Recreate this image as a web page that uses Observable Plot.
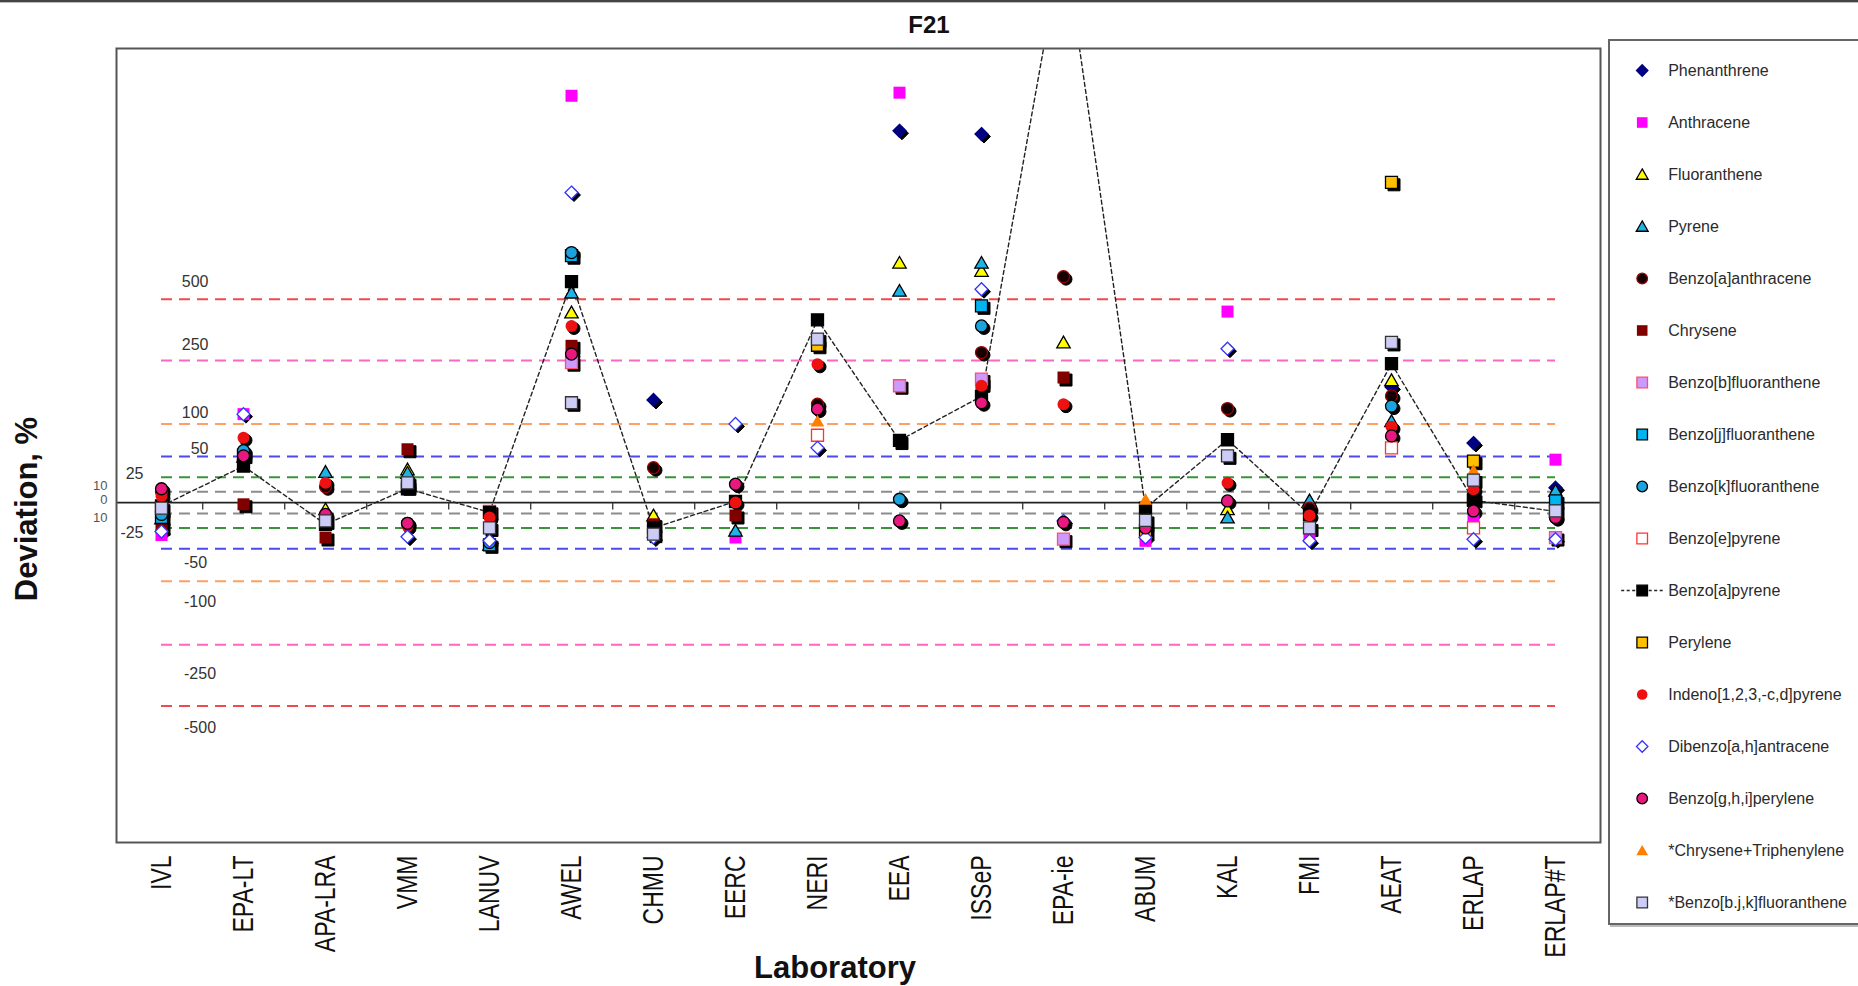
<!DOCTYPE html>
<html><head><meta charset="utf-8">
<script src="https://cdn.jsdelivr.net/npm/d3@7"></script>
<script src="https://cdn.jsdelivr.net/npm/@observablehq/plot@0.6"></script>
<style>
body{margin:0;background:#fff;font-family:"Liberation Sans",Arial,sans-serif;}
#wrap{position:relative;width:1858px;height:986px;overflow:hidden;background:#fff;}
.abs{position:absolute;white-space:nowrap;line-height:1;}
</style></head><body><div id="wrap"></div>
<script>
// ---------- data ----------
const labs = ["IVL","EPA-LT","APA-LRA","VMM","LANUV","AWEL","CHMU","EERC","NERI","EEA","ISSeP","EPA-ie","ABUM","KAL","FMI","AEAT","ERLAP","ERLAP#T"];
const seriesNames = ["Phenanthrene","Anthracene","Fluoranthene","Pyrene","Benzo[a]anthracene","Chrysene","Benzo[b]fluoranthene","Benzo[j]fluoranthene","Benzo[k]fluoranthene","Benzo[e]pyrene","Benzo[a]pyrene","Perylene","Indeno[1,2,3,-c,d]pyrene","Dibenzo[a,h]antracene","Benzo[g,h,i]perylene","*Chrysene+Triphenylene","*Benzo[b.j,k]fluoranthene"];
const phenanthrene = [null,null,null,null,null,null,147,null,null,2545,2470,null,null,null,null,177,69,14];
const anthracene = [-33,118,null,null,null,3500,null,-36,null,3600,null,null,-40,438,-35,null,-14,46];
const fluoranthene = [null,null,-6,34,null,434,-12,null,null,727,670,310,null,-6,1,194,null,null];
const pyrene = [-15,50,31,30,-45,536,null,-28,null,546,727,null,null,-14,2,105,null,11];
const benzoAanthracene = [10,55,15,-20,null,790,36,null,138,null,275,632,null,129,-5,156,null,-14];
const chrysene = [-24,-1.5,-36,60,null,298,-21,-12,null,72,185,201,null,null,null,null,null,null];
const benzoBfluoranthene = [null,null,null,null,-8,243,null,null,null,180,197,-38,null,null,null,null,null,-36];
const benzoJfluoranthene = [-14,52,null,15,-45,780,null,null,null,null,466,null,null,null,null,null,3,1.5];
const benzoKfluoranthene = [-11,58,null,16,-42,805,null,null,null,3,374,null,null,null,null,134,null,null];
const benzoEpyrene = [null,null,null,null,null,null,null,null,81,null,null,null,null,null,null,62,-25,null];
const benzoApyrene = [-3,38,-21,13,-9,600,-25,1,400,73,155,14500,-5,74,-11,240,2,-8];
const perylene = [null,null,null,null,null,null,null,null,300,null,null,null,-28,null,null,1580,44,null];
const indeno = [6,77,19,-23,-14,374,null,0,238,null,180,138,null,19,-12,95,12.5,null];
const dibenzo = [-29,118,null,-35,-40,1435,-36,100,62,null,555,-17.5,-36,288,-40,null,-38,-38];
const benzoGHIperylene = [13,51,-11,-20,null,270,null,17.6,128,-17.5,141,-19,-25,1.5,null,80,-7.6,-14];
const chryseneTriphenylene = [null,null,null,null,null,null,null,null,105,null,null,null,3,null,null,null,33,null];
const benzoBJKfluoranthene = [-5,null,-17.5,19,-25,141,-32,null,322,null,null,null,-17,51,-25,310,22,-7.6];
const seriesValues = [phenanthrene,anthracene,fluoranthene,pyrene,benzoAanthracene,chrysene,benzoBfluoranthene,benzoJfluoranthene,benzoKfluoranthene,benzoEpyrene,benzoApyrene,perylene,indeno,dibenzo,benzoGHIperylene,chryseneTriphenylene,benzoBJKfluoranthene];
const levels = [500,250,100,50,25,10];
const levelLabelsBig = [500,250,100,50];
const levelLabelsBigNeg = [-50,-100,-250,-500];

// ---------- symbols & styles ----------
const symSquare = {draw(c,s){const h=Math.sqrt(s/Math.PI);c.moveTo(-h,-h);c.lineTo(h,-h);c.lineTo(h,h);c.lineTo(-h,h);c.closePath();}};
const symDiamond = {draw(c,s){const h=Math.sqrt(s/Math.PI)*1.08;c.moveTo(0,-h);c.lineTo(h,0);c.lineTo(0,h);c.lineTo(-h,0);c.closePath();}};
const symTriangle = {draw(c,s){const r=Math.sqrt(s/Math.PI);c.moveTo(0,-1.05*r);c.lineTo(1.12*r,0.9*r);c.lineTo(-1.12*r,0.9*r);c.closePath();}};
const symCircle = {draw(c,s){const r=Math.sqrt(s/Math.PI);c.moveTo(r,0);c.arc(0,0,r,0,2*Math.PI);}};
const symTick = {draw(c,s){c.moveTo(0,0);c.lineTo(0,7);}};
const symDash = {draw(c,s){c.moveTo(-21,0);c.lineTo(21,0);}};

const styles = [
  {symbol:symDiamond, fill:"#000080", stroke:"#000080", shadow:true},
  {symbol:symSquare, fill:"#ff00ff", stroke:"none", shadow:false},
  {symbol:symTriangle, fill:"#ffff00", stroke:"#000", shadow:false},
  {symbol:symTriangle, fill:"#1fb2e6", stroke:"#000", shadow:false},
  {symbol:symCircle, fill:"#140000", stroke:"#a00000", shadow:true},
  {symbol:symSquare, fill:"#800000", stroke:"none", shadow:true},
  {symbol:symSquare, fill:"#cc99ff", stroke:"#ff4d6a", shadow:true},
  {symbol:symSquare, fill:"#00b4f0", stroke:"#000", shadow:true},
  {symbol:symCircle, fill:"#1aa3dc", stroke:"#000", shadow:true},
  {symbol:symSquare, fill:"#ffffff", stroke:"#ff3333", shadow:false},
  {symbol:symSquare, fill:"#000000", stroke:"#000", shadow:false},
  {symbol:symSquare, fill:"#ffc000", stroke:"#000", shadow:true},
  {symbol:symCircle, fill:"#ee1111", stroke:"none", shadow:true},
  {symbol:symDiamond, fill:"#ffffff", stroke:"#3333ff", shadow:true},
  {symbol:symCircle, fill:"#e8187f", stroke:"#000", shadow:true},
  {symbol:symTriangle, fill:"#ff7f00", stroke:"none", shadow:false},
  {symbol:symSquare, fill:"#ccccf7", stroke:"#333", shadow:true}
];
const levelColors = {500:"#f24a4a",250:"#ff66c4",100:"#ffa060",50:"#4a4af0",25:"#3a943a",10:"#8c8c8c"};

// ---------- layout ----------
const W = 1858, H = 986, ML = 116, MR = 258, MT = 48, MB = 144;
const step = (W - ML - MR) / labs.length;

const rows = seriesValues.map(arr => labs.map((lab,i)=>({lab, v: arr[i]})).filter(d => d.v != null));

const marks = [];
for (const L of levels) {
  for (const v of [L, -L]) {
    marks.push(Plot.ruleY([v], {y: d=>d, x1: ()=>labs[0], x2: ()=>labs[labs.length-1], stroke: levelColors[L], strokeWidth: 2, strokeDasharray: "11,7"}));
  }
}
marks.push(Plot.ruleY([0], {stroke:"#222", strokeWidth:1.6}));
marks.push(Plot.dot(labs.slice(0,-1), {x: d=>d, y: ()=>0, symbol: symTick, r: 3, stroke:"#333", strokeWidth:1.3, fill:"none", dx: step/2}));
// Benzo[a]pyrene connecting line
const bapRows = labs.map((lab,i)=>({lab, v: benzoApyrene[i]}));
marks.push(Plot.line(bapRows, {x:"lab", y:"v", stroke:"#222", strokeWidth:1.4, strokeDasharray:"4,3", clip:true}));
// shadows
rows.forEach((data, k) => {
  const s = styles[k];
  if (s.shadow) marks.push(Plot.dot(data, {x:"lab", y:"v", symbol:s.symbol, r:6, fill:"#000", stroke:"#000", strokeWidth:1, dx:2.5, dy:2.5, clip:true}));
});
rows.forEach((data, k) => {
  const s = styles[k];
  marks.push(Plot.dot(data, {x:"lab", y:"v", symbol:s.symbol, r:6, fill:s.fill, stroke:s.stroke, strokeWidth:1.3, clip:true}));
});
marks.push(Plot.frame({stroke:"#555", strokeWidth:2}));
// level labels
marks.push(Plot.text(levelLabelsBig, {y: d=>d*1.2, text: d=>String(d), frameAnchor:"left", dx:92, textAnchor:"end", fontSize:16, fill:"#333"}));
marks.push(Plot.text(levelLabelsBigNeg, {y: d=>d*(d<-400?1.25:1.4), text: d=>String(d), frameAnchor:"left", dx:67.5, textAnchor:"start", fontSize:16, fill:"#333"}));
marks.push(Plot.text([25], {y: d=>d, text: d=>String(d), frameAnchor:"left", dx:27, dy:-3, textAnchor:"end", fontSize:16, fill:"#333"}));
marks.push(Plot.text([-25], {y: d=>d, text: d=>String(d), frameAnchor:"left", dx:27, dy:5, textAnchor:"end", fontSize:16, fill:"#333"}));
marks.push(Plot.text([10], {y: d=>d, text: d=>String(d), frameAnchor:"left", dx:-9, dy:-6, textAnchor:"end", fontSize:13, fill:"#555"}));
marks.push(Plot.text([0], {y: d=>d, text: d=>String(d), frameAnchor:"left", dx:-9, dy:-2.5, textAnchor:"end", fontSize:13, fill:"#555"}));
marks.push(Plot.text([-10], {y: d=>d, text: d=>String(Math.abs(d)), frameAnchor:"left", dx:-9, dy:4.5, textAnchor:"end", fontSize:13, fill:"#555"}));

const chart = Plot.plot({
  width: W, height: H,
  marginLeft: ML, marginRight: MR, marginTop: MT, marginBottom: MB,
  style: {fontFamily: '"Liberation Sans", Arial, sans-serif', fontSize: "23px", color: "#111", background: "transparent"},
  x: {type: "point", domain: labs, padding: 0.5, label: null, tickSize: 0, tickPadding: 13, tickRotate: -90},
  y: {type: "symlog", constant: 100, domain: [-1896, 5360], axis: null},
  marks
});
chart.style.position = "absolute"; chart.style.left = "0px"; chart.style.top = "0px";
// stretch the rotated category labels a little (reference font is condensed)
chart.querySelectorAll('[aria-label^="x-axis"] text').forEach(t => {
  const tr = t.getAttribute("transform") || "";
  if (tr.includes("rotate")) t.setAttribute("transform", tr + " scale(1,1.25)");
});
const wrap = document.getElementById("wrap");

// top border
const top1 = document.createElement("div");
top1.style.cssText = "position:absolute;left:0;top:0;width:1858px;height:2px;background:#444;";
wrap.appendChild(top1);
const top2 = document.createElement("div");
top2.style.cssText = "position:absolute;left:0;top:2px;width:1858px;height:1px;background:#bbb;";
wrap.appendChild(top2);

wrap.appendChild(chart);

function addText(txt, x, y, css) {
  const d = document.createElement("div");
  d.className = "abs";
  d.textContent = txt;
  d.style.cssText += `left:${x}px;top:${y}px;` + css;
  wrap.appendChild(d);
  return d;
}
addText("F21", 929, 25, "transform:translate(-50%,-50%);font-weight:bold;font-size:24px;color:#111;");
addText("Laboratory", 835, 967, "transform:translate(-50%,-50%);font-weight:bold;font-size:31px;color:#111;");
addText("Deviation, %", 26, 509, "transform:translate(-50%,-50%) rotate(-90deg);font-weight:bold;font-size:31px;color:#111;");

// legend
const legBox = document.createElement("div");
legBox.style.cssText = "position:absolute;left:1608px;top:39px;width:250px;height:886px;box-sizing:border-box;border:2px solid #666;border-right:none;background:#fff;box-shadow:2px 2px 0 #bbb;";
wrap.appendChild(legBox);
const legMarks = [];
const bapName = seriesNames[10];
legMarks.push(Plot.dot([bapName], {y: d=>d, frameAnchor:"left", dx:31.7, symbol: symDash, r:3, stroke:"#222", strokeWidth:1.3, strokeDasharray:"3,2.5", fill:"none"}));
seriesNames.forEach((name, k) => {
  const s = styles[k];
  legMarks.push(Plot.dot([name], {y: d=>d, frameAnchor:"left", dx:31.7, symbol:s.symbol, r:5.3, fill:s.fill, stroke:s.stroke, strokeWidth:1.3}));
});
legMarks.push(Plot.text(seriesNames, {y: d=>d, text: d=>d, frameAnchor:"left", dx:57.7, textAnchor:"start", fontSize:16, fill:"#2a2a2a"}));
const legend = Plot.plot({
  width: 246, height: 882, margin: 0,
  style: {fontFamily: '"Liberation Sans", Arial, sans-serif', background: "transparent"},
  y: {type: "point", domain: seriesNames, range: [29, 29 + 16*52], padding: 0, axis: null},
  marks: legMarks
});
legBox.appendChild(legend);
</script>
</body></html>
